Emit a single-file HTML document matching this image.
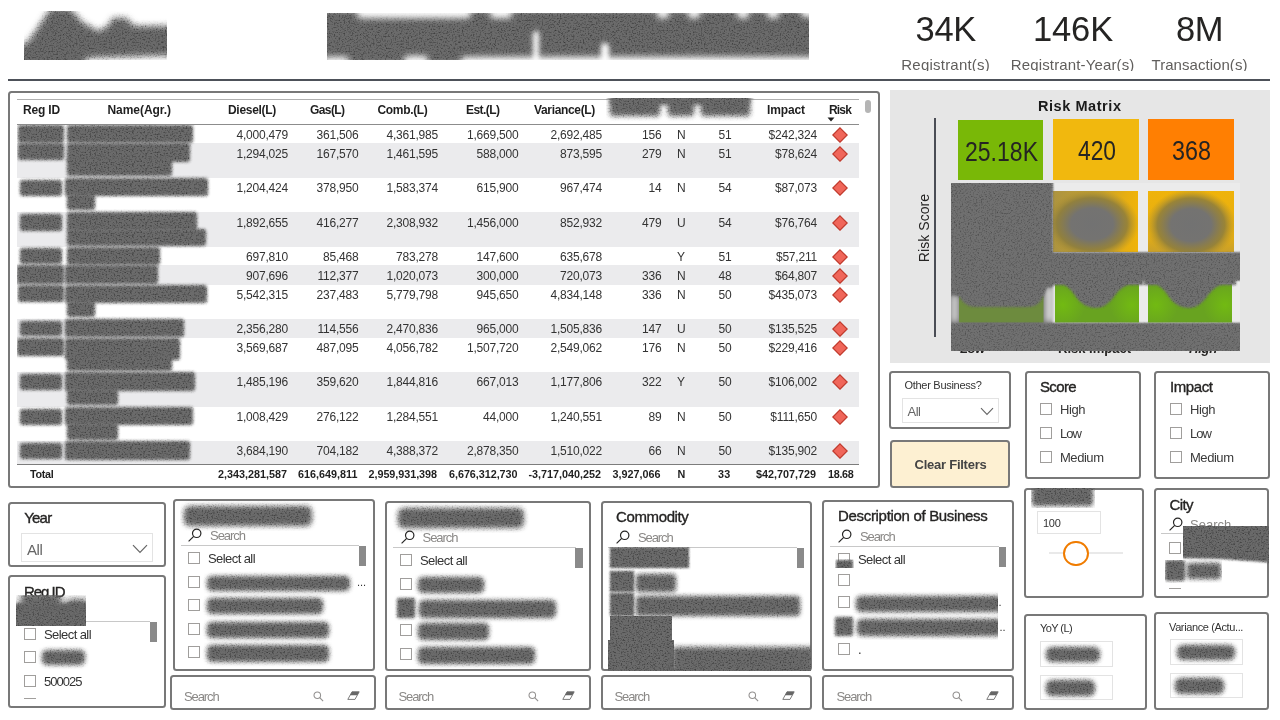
<!DOCTYPE html>
<html lang="en"><head><meta charset="utf-8"><title>Risk Dashboard</title>
<style>
html,body{margin:0;padding:0;}
body{width:1280px;height:720px;overflow:hidden;background:#fff;font-family:"Liberation Sans",sans-serif;position:relative;}
#pg{position:absolute;left:0;top:0;width:1280px;height:720px;overflow:hidden;}
#pg div,#pg span,#pg svg{position:absolute;box-sizing:border-box;}
.t{white-space:nowrap;display:block;}
.card{border:2px solid #787878;border-radius:3.5px;background:#fff;}
.cb{border:1px solid #a09e9c;background:#fff;}
.thumb{background:#8a8a8a;}
.in{border:1px solid #e3e3e3;background:#fff;}
</style></head><body><div id="pg">
<svg width="0" height="0" style="left:0;top:0"><defs>
<filter id="n" x="-50%" y="-50%" width="200%" height="200%" color-interpolation-filters="sRGB">
<feTurbulence type="fractalNoise" baseFrequency="0.61 0.67" numOctaves="3" seed="5" result="t"/>
<feColorMatrix in="t" type="matrix" values="0 0 0 0 0.22  0 0 0 0 0.22  0 0 0 0 0.22  2.4 0 0 0 -1.15" result="a"/>
<feComposite in="a" in2="SourceAlpha" operator="in" result="m"/>
<feMerge><feMergeNode in="SourceGraphic"/><feMergeNode in="m"/></feMerge>
</filter>
<filter id="n2" x="-10%" y="-10%" width="120%" height="120%" color-interpolation-filters="sRGB">
<feTurbulence type="fractalNoise" baseFrequency="0.63 0.69" numOctaves="3" seed="9" result="t"/>
<feColorMatrix in="t" type="matrix" values="0 0 0 0 0.25  0 0 0 0 0.25  0 0 0 0 0.25  1.9 0 0 0 -0.93" result="a"/>
<feComposite in="a" in2="SourceAlpha" operator="in" result="m"/>
<feMerge><feMergeNode in="SourceGraphic"/><feMergeNode in="m"/></feMerge>
</filter>
<filter id="lb" x="-20%" y="-20%" width="140%" height="140%"><feGaussianBlur stdDeviation="3"/></filter>
</defs></svg>

<svg style="left:24px;top:11px;filter:url(#n)" width="143" height="49" viewBox="0 0 143 49"><g filter="url(#lb)" fill="#6b6b6b"><polygon points="-10,67 -10,37 4,31 27,-3 46,-3 58,11 74,20 83,16 89,7 102,7 110,15 160,15 160,44 62,47 62,67"/></g></svg>
<div style="left:327px;top:13px;width:482px;height:47px;overflow:hidden;">
<div class="b" style="left:-6px;top:-2px;width:496px;height:52px;background:#6b6b6b;border-radius:3px;filter:blur(2px) url(#n);"></div>
<div class="b" style="left:30px;top:-5px;width:114px;height:10px;background:#fff;filter:blur(3px);border-radius:4px"></div>
<div class="b" style="left:163px;top:-5px;width:22px;height:10px;background:#fff;filter:blur(3px);border-radius:4px"></div>
<div class="b" style="left:330px;top:-5px;width:12px;height:10px;background:#fff;filter:blur(3px);border-radius:4px"></div>
<div class="b" style="left:361px;top:-5px;width:12px;height:10px;background:#fff;filter:blur(3px);border-radius:4px"></div>
<div class="b" style="left:410px;top:-5px;width:12px;height:10px;background:#fff;filter:blur(3px);border-radius:4px"></div>
<div class="b" style="left:440px;top:-5px;width:12px;height:10px;background:#fff;filter:blur(3px);border-radius:4px"></div>
<div class="b" style="left:474px;top:-5px;width:16px;height:9px;background:#fff;filter:blur(3px);border-radius:4px"></div>
<div class="b" style="left:-4px;top:44px;width:26px;height:8px;background:#fff;filter:blur(3px);border-radius:4px"></div>
<div class="b" style="left:77px;top:43px;width:24px;height:9px;background:#fff;filter:blur(3px);border-radius:4px"></div>
<div class="b" style="left:134px;top:44px;width:360px;height:10px;background:#fff;filter:blur(3px);border-radius:4px"></div>
<div class="b" style="left:206px;top:18px;width:6px;height:34px;background:#fff;filter:blur(2.5px);border-radius:4px"></div>
<div class="b" style="left:274px;top:30px;width:8px;height:22px;background:#fff;filter:blur(2.5px);border-radius:4px"></div>
</div>
<span class="t" style="top:4.8px;height:48px;line-height:48px;font-size:34.5px;color:#252423;left:915.5px;letter-spacing:-0.296px;">34K</span>
<span class="t" style="top:4.8px;height:48px;line-height:48px;font-size:34.5px;color:#252423;left:1033px;letter-spacing:-0.144px;">146K</span>
<span class="t" style="top:4.8px;height:48px;line-height:48px;font-size:34.5px;color:#252423;left:1176px;letter-spacing:-0.464px;">8M</span>
<div style="left:890px;top:50px;width:390px;height:21px;overflow:hidden;">
<span class="t" style="top:3.5px;height:21px;line-height:21px;font-size:15px;color:#605e5c;left:11.3px;letter-spacing:0.219px;">Registrant(s)</span>
<span class="t" style="top:3.5px;height:21px;line-height:21px;font-size:15px;color:#605e5c;left:120.8px;letter-spacing:0.141px;">Registrant-Year(s)</span>
<span class="t" style="top:3.5px;height:21px;line-height:21px;font-size:15px;color:#605e5c;left:261.5px;letter-spacing:0.050px;">Transaction(s)</span>
</div>
<div style="left:8px;top:79px;width:1262px;height:2px;background:#4d5159;"></div>
<div class="card" style="left:8px;top:91px;width:872px;height:397px;"></div>
<div style="left:17px;top:99px;width:842px;height:1px;background:#b0b0b0;"></div>
<div style="left:17px;top:124px;width:842px;height:1px;background:#8c8c8c;"></div>
<span class="t" style="top:126.5px;height:17px;line-height:17px;font-size:12px;color:#333;right:992px;text-align:right;letter-spacing:-0.2px;">4,000,479</span>
<span class="t" style="top:126.5px;height:17px;line-height:17px;font-size:12px;color:#333;right:921.5px;text-align:right;letter-spacing:-0.2px;">361,506</span>
<span class="t" style="top:126.5px;height:17px;line-height:17px;font-size:12px;color:#333;right:842px;text-align:right;letter-spacing:-0.2px;">4,361,985</span>
<span class="t" style="top:126.5px;height:17px;line-height:17px;font-size:12px;color:#333;right:761.5px;text-align:right;letter-spacing:-0.2px;">1,669,500</span>
<span class="t" style="top:126.5px;height:17px;line-height:17px;font-size:12px;color:#333;right:678px;text-align:right;letter-spacing:-0.2px;">2,692,485</span>
<span class="t" style="top:126.5px;height:17px;line-height:17px;font-size:12px;color:#333;right:618.5px;text-align:right;letter-spacing:-0.2px;">156</span>
<span class="t" style="top:126.5px;height:17px;line-height:17px;font-size:12px;color:#333;left:677px;">N</span>
<span class="t" style="top:126.5px;height:17px;line-height:17px;font-size:12px;color:#333;right:548.5px;text-align:right;letter-spacing:-0.2px;">51</span>
<span class="t" style="top:126.5px;height:17px;line-height:17px;font-size:12px;color:#333;right:463px;text-align:right;letter-spacing:-0.2px;">$242,324</span>
<svg style="left:832px;top:126.5px" width="16" height="16" viewBox="0 0 16 16"><path d="M8 0.8 L15.2 8 L8 15.2 L0.8 8 Z" fill="#f0665a" stroke="#c0392c" stroke-width="1.2"/></svg>
<div style="left:17px;top:143px;width:842px;height:35px;background:#ebebed;"></div>
<span class="t" style="top:145.5px;height:17px;line-height:17px;font-size:12px;color:#333;right:992px;text-align:right;letter-spacing:-0.2px;">1,294,025</span>
<span class="t" style="top:145.5px;height:17px;line-height:17px;font-size:12px;color:#333;right:921.5px;text-align:right;letter-spacing:-0.2px;">167,570</span>
<span class="t" style="top:145.5px;height:17px;line-height:17px;font-size:12px;color:#333;right:842px;text-align:right;letter-spacing:-0.2px;">1,461,595</span>
<span class="t" style="top:145.5px;height:17px;line-height:17px;font-size:12px;color:#333;right:761.5px;text-align:right;letter-spacing:-0.2px;">588,000</span>
<span class="t" style="top:145.5px;height:17px;line-height:17px;font-size:12px;color:#333;right:678px;text-align:right;letter-spacing:-0.2px;">873,595</span>
<span class="t" style="top:145.5px;height:17px;line-height:17px;font-size:12px;color:#333;right:618.5px;text-align:right;letter-spacing:-0.2px;">279</span>
<span class="t" style="top:145.5px;height:17px;line-height:17px;font-size:12px;color:#333;left:677px;">N</span>
<span class="t" style="top:145.5px;height:17px;line-height:17px;font-size:12px;color:#333;right:548.5px;text-align:right;letter-spacing:-0.2px;">51</span>
<span class="t" style="top:145.5px;height:17px;line-height:17px;font-size:12px;color:#333;right:463px;text-align:right;letter-spacing:-0.2px;">$78,624</span>
<svg style="left:832px;top:145.5px" width="16" height="16" viewBox="0 0 16 16"><path d="M8 0.8 L15.2 8 L8 15.2 L0.8 8 Z" fill="#f0665a" stroke="#c0392c" stroke-width="1.2"/></svg>
<span class="t" style="top:179.5px;height:17px;line-height:17px;font-size:12px;color:#333;right:992px;text-align:right;letter-spacing:-0.2px;">1,204,424</span>
<span class="t" style="top:179.5px;height:17px;line-height:17px;font-size:12px;color:#333;right:921.5px;text-align:right;letter-spacing:-0.2px;">378,950</span>
<span class="t" style="top:179.5px;height:17px;line-height:17px;font-size:12px;color:#333;right:842px;text-align:right;letter-spacing:-0.2px;">1,583,374</span>
<span class="t" style="top:179.5px;height:17px;line-height:17px;font-size:12px;color:#333;right:761.5px;text-align:right;letter-spacing:-0.2px;">615,900</span>
<span class="t" style="top:179.5px;height:17px;line-height:17px;font-size:12px;color:#333;right:678px;text-align:right;letter-spacing:-0.2px;">967,474</span>
<span class="t" style="top:179.5px;height:17px;line-height:17px;font-size:12px;color:#333;right:618.5px;text-align:right;letter-spacing:-0.2px;">14</span>
<span class="t" style="top:179.5px;height:17px;line-height:17px;font-size:12px;color:#333;left:677px;">N</span>
<span class="t" style="top:179.5px;height:17px;line-height:17px;font-size:12px;color:#333;right:548.5px;text-align:right;letter-spacing:-0.2px;">54</span>
<span class="t" style="top:179.5px;height:17px;line-height:17px;font-size:12px;color:#333;right:463px;text-align:right;letter-spacing:-0.2px;">$87,073</span>
<svg style="left:832px;top:179.5px" width="16" height="16" viewBox="0 0 16 16"><path d="M8 0.8 L15.2 8 L8 15.2 L0.8 8 Z" fill="#f0665a" stroke="#c0392c" stroke-width="1.2"/></svg>
<div style="left:17px;top:212px;width:842px;height:35px;background:#ebebed;"></div>
<span class="t" style="top:214.5px;height:17px;line-height:17px;font-size:12px;color:#333;right:992px;text-align:right;letter-spacing:-0.2px;">1,892,655</span>
<span class="t" style="top:214.5px;height:17px;line-height:17px;font-size:12px;color:#333;right:921.5px;text-align:right;letter-spacing:-0.2px;">416,277</span>
<span class="t" style="top:214.5px;height:17px;line-height:17px;font-size:12px;color:#333;right:842px;text-align:right;letter-spacing:-0.2px;">2,308,932</span>
<span class="t" style="top:214.5px;height:17px;line-height:17px;font-size:12px;color:#333;right:761.5px;text-align:right;letter-spacing:-0.2px;">1,456,000</span>
<span class="t" style="top:214.5px;height:17px;line-height:17px;font-size:12px;color:#333;right:678px;text-align:right;letter-spacing:-0.2px;">852,932</span>
<span class="t" style="top:214.5px;height:17px;line-height:17px;font-size:12px;color:#333;right:618.5px;text-align:right;letter-spacing:-0.2px;">479</span>
<span class="t" style="top:214.5px;height:17px;line-height:17px;font-size:12px;color:#333;left:677px;">U</span>
<span class="t" style="top:214.5px;height:17px;line-height:17px;font-size:12px;color:#333;right:548.5px;text-align:right;letter-spacing:-0.2px;">54</span>
<span class="t" style="top:214.5px;height:17px;line-height:17px;font-size:12px;color:#333;right:463px;text-align:right;letter-spacing:-0.2px;">$76,764</span>
<svg style="left:832px;top:214.5px" width="16" height="16" viewBox="0 0 16 16"><path d="M8 0.8 L15.2 8 L8 15.2 L0.8 8 Z" fill="#f0665a" stroke="#c0392c" stroke-width="1.2"/></svg>
<span class="t" style="top:248.5px;height:17px;line-height:17px;font-size:12px;color:#333;right:992px;text-align:right;letter-spacing:-0.2px;">697,810</span>
<span class="t" style="top:248.5px;height:17px;line-height:17px;font-size:12px;color:#333;right:921.5px;text-align:right;letter-spacing:-0.2px;">85,468</span>
<span class="t" style="top:248.5px;height:17px;line-height:17px;font-size:12px;color:#333;right:842px;text-align:right;letter-spacing:-0.2px;">783,278</span>
<span class="t" style="top:248.5px;height:17px;line-height:17px;font-size:12px;color:#333;right:761.5px;text-align:right;letter-spacing:-0.2px;">147,600</span>
<span class="t" style="top:248.5px;height:17px;line-height:17px;font-size:12px;color:#333;right:678px;text-align:right;letter-spacing:-0.2px;">635,678</span>
<span class="t" style="top:248.5px;height:17px;line-height:17px;font-size:12px;color:#333;left:677px;">Y</span>
<span class="t" style="top:248.5px;height:17px;line-height:17px;font-size:12px;color:#333;right:548.5px;text-align:right;letter-spacing:-0.2px;">51</span>
<span class="t" style="top:248.5px;height:17px;line-height:17px;font-size:12px;color:#333;right:463px;text-align:right;letter-spacing:-0.2px;">$57,211</span>
<svg style="left:832px;top:248.5px" width="16" height="16" viewBox="0 0 16 16"><path d="M8 0.8 L15.2 8 L8 15.2 L0.8 8 Z" fill="#f0665a" stroke="#c0392c" stroke-width="1.2"/></svg>
<div style="left:17px;top:265px;width:842px;height:19.5px;background:#ebebed;"></div>
<span class="t" style="top:267.5px;height:17px;line-height:17px;font-size:12px;color:#333;right:992px;text-align:right;letter-spacing:-0.2px;">907,696</span>
<span class="t" style="top:267.5px;height:17px;line-height:17px;font-size:12px;color:#333;right:921.5px;text-align:right;letter-spacing:-0.2px;">112,377</span>
<span class="t" style="top:267.5px;height:17px;line-height:17px;font-size:12px;color:#333;right:842px;text-align:right;letter-spacing:-0.2px;">1,020,073</span>
<span class="t" style="top:267.5px;height:17px;line-height:17px;font-size:12px;color:#333;right:761.5px;text-align:right;letter-spacing:-0.2px;">300,000</span>
<span class="t" style="top:267.5px;height:17px;line-height:17px;font-size:12px;color:#333;right:678px;text-align:right;letter-spacing:-0.2px;">720,073</span>
<span class="t" style="top:267.5px;height:17px;line-height:17px;font-size:12px;color:#333;right:618.5px;text-align:right;letter-spacing:-0.2px;">336</span>
<span class="t" style="top:267.5px;height:17px;line-height:17px;font-size:12px;color:#333;left:677px;">N</span>
<span class="t" style="top:267.5px;height:17px;line-height:17px;font-size:12px;color:#333;right:548.5px;text-align:right;letter-spacing:-0.2px;">48</span>
<span class="t" style="top:267.5px;height:17px;line-height:17px;font-size:12px;color:#333;right:463px;text-align:right;letter-spacing:-0.2px;">$64,807</span>
<svg style="left:832px;top:267.5px" width="16" height="16" viewBox="0 0 16 16"><path d="M8 0.8 L15.2 8 L8 15.2 L0.8 8 Z" fill="#f0665a" stroke="#c0392c" stroke-width="1.2"/></svg>
<span class="t" style="top:286.5px;height:17px;line-height:17px;font-size:12px;color:#333;right:992px;text-align:right;letter-spacing:-0.2px;">5,542,315</span>
<span class="t" style="top:286.5px;height:17px;line-height:17px;font-size:12px;color:#333;right:921.5px;text-align:right;letter-spacing:-0.2px;">237,483</span>
<span class="t" style="top:286.5px;height:17px;line-height:17px;font-size:12px;color:#333;right:842px;text-align:right;letter-spacing:-0.2px;">5,779,798</span>
<span class="t" style="top:286.5px;height:17px;line-height:17px;font-size:12px;color:#333;right:761.5px;text-align:right;letter-spacing:-0.2px;">945,650</span>
<span class="t" style="top:286.5px;height:17px;line-height:17px;font-size:12px;color:#333;right:678px;text-align:right;letter-spacing:-0.2px;">4,834,148</span>
<span class="t" style="top:286.5px;height:17px;line-height:17px;font-size:12px;color:#333;right:618.5px;text-align:right;letter-spacing:-0.2px;">336</span>
<span class="t" style="top:286.5px;height:17px;line-height:17px;font-size:12px;color:#333;left:677px;">N</span>
<span class="t" style="top:286.5px;height:17px;line-height:17px;font-size:12px;color:#333;right:548.5px;text-align:right;letter-spacing:-0.2px;">50</span>
<span class="t" style="top:286.5px;height:17px;line-height:17px;font-size:12px;color:#333;right:463px;text-align:right;letter-spacing:-0.2px;">$435,073</span>
<svg style="left:832px;top:286.5px" width="16" height="16" viewBox="0 0 16 16"><path d="M8 0.8 L15.2 8 L8 15.2 L0.8 8 Z" fill="#f0665a" stroke="#c0392c" stroke-width="1.2"/></svg>
<div style="left:17px;top:319px;width:842px;height:18.5px;background:#ebebed;"></div>
<span class="t" style="top:320.5px;height:17px;line-height:17px;font-size:12px;color:#333;right:992px;text-align:right;letter-spacing:-0.2px;">2,356,280</span>
<span class="t" style="top:320.5px;height:17px;line-height:17px;font-size:12px;color:#333;right:921.5px;text-align:right;letter-spacing:-0.2px;">114,556</span>
<span class="t" style="top:320.5px;height:17px;line-height:17px;font-size:12px;color:#333;right:842px;text-align:right;letter-spacing:-0.2px;">2,470,836</span>
<span class="t" style="top:320.5px;height:17px;line-height:17px;font-size:12px;color:#333;right:761.5px;text-align:right;letter-spacing:-0.2px;">965,000</span>
<span class="t" style="top:320.5px;height:17px;line-height:17px;font-size:12px;color:#333;right:678px;text-align:right;letter-spacing:-0.2px;">1,505,836</span>
<span class="t" style="top:320.5px;height:17px;line-height:17px;font-size:12px;color:#333;right:618.5px;text-align:right;letter-spacing:-0.2px;">147</span>
<span class="t" style="top:320.5px;height:17px;line-height:17px;font-size:12px;color:#333;left:677px;">U</span>
<span class="t" style="top:320.5px;height:17px;line-height:17px;font-size:12px;color:#333;right:548.5px;text-align:right;letter-spacing:-0.2px;">50</span>
<span class="t" style="top:320.5px;height:17px;line-height:17px;font-size:12px;color:#333;right:463px;text-align:right;letter-spacing:-0.2px;">$135,525</span>
<svg style="left:832px;top:320.5px" width="16" height="16" viewBox="0 0 16 16"><path d="M8 0.8 L15.2 8 L8 15.2 L0.8 8 Z" fill="#f0665a" stroke="#c0392c" stroke-width="1.2"/></svg>
<span class="t" style="top:339.5px;height:17px;line-height:17px;font-size:12px;color:#333;right:992px;text-align:right;letter-spacing:-0.2px;">3,569,687</span>
<span class="t" style="top:339.5px;height:17px;line-height:17px;font-size:12px;color:#333;right:921.5px;text-align:right;letter-spacing:-0.2px;">487,095</span>
<span class="t" style="top:339.5px;height:17px;line-height:17px;font-size:12px;color:#333;right:842px;text-align:right;letter-spacing:-0.2px;">4,056,782</span>
<span class="t" style="top:339.5px;height:17px;line-height:17px;font-size:12px;color:#333;right:761.5px;text-align:right;letter-spacing:-0.2px;">1,507,720</span>
<span class="t" style="top:339.5px;height:17px;line-height:17px;font-size:12px;color:#333;right:678px;text-align:right;letter-spacing:-0.2px;">2,549,062</span>
<span class="t" style="top:339.5px;height:17px;line-height:17px;font-size:12px;color:#333;right:618.5px;text-align:right;letter-spacing:-0.2px;">176</span>
<span class="t" style="top:339.5px;height:17px;line-height:17px;font-size:12px;color:#333;left:677px;">N</span>
<span class="t" style="top:339.5px;height:17px;line-height:17px;font-size:12px;color:#333;right:548.5px;text-align:right;letter-spacing:-0.2px;">50</span>
<span class="t" style="top:339.5px;height:17px;line-height:17px;font-size:12px;color:#333;right:463px;text-align:right;letter-spacing:-0.2px;">$229,416</span>
<svg style="left:832px;top:339.5px" width="16" height="16" viewBox="0 0 16 16"><path d="M8 0.8 L15.2 8 L8 15.2 L0.8 8 Z" fill="#f0665a" stroke="#c0392c" stroke-width="1.2"/></svg>
<div style="left:17px;top:371.5px;width:842px;height:35px;background:#ebebed;"></div>
<span class="t" style="top:373.5px;height:17px;line-height:17px;font-size:12px;color:#333;right:992px;text-align:right;letter-spacing:-0.2px;">1,485,196</span>
<span class="t" style="top:373.5px;height:17px;line-height:17px;font-size:12px;color:#333;right:921.5px;text-align:right;letter-spacing:-0.2px;">359,620</span>
<span class="t" style="top:373.5px;height:17px;line-height:17px;font-size:12px;color:#333;right:842px;text-align:right;letter-spacing:-0.2px;">1,844,816</span>
<span class="t" style="top:373.5px;height:17px;line-height:17px;font-size:12px;color:#333;right:761.5px;text-align:right;letter-spacing:-0.2px;">667,013</span>
<span class="t" style="top:373.5px;height:17px;line-height:17px;font-size:12px;color:#333;right:678px;text-align:right;letter-spacing:-0.2px;">1,177,806</span>
<span class="t" style="top:373.5px;height:17px;line-height:17px;font-size:12px;color:#333;right:618.5px;text-align:right;letter-spacing:-0.2px;">322</span>
<span class="t" style="top:373.5px;height:17px;line-height:17px;font-size:12px;color:#333;left:677px;">Y</span>
<span class="t" style="top:373.5px;height:17px;line-height:17px;font-size:12px;color:#333;right:548.5px;text-align:right;letter-spacing:-0.2px;">50</span>
<span class="t" style="top:373.5px;height:17px;line-height:17px;font-size:12px;color:#333;right:463px;text-align:right;letter-spacing:-0.2px;">$106,002</span>
<svg style="left:832px;top:373.5px" width="16" height="16" viewBox="0 0 16 16"><path d="M8 0.8 L15.2 8 L8 15.2 L0.8 8 Z" fill="#f0665a" stroke="#c0392c" stroke-width="1.2"/></svg>
<span class="t" style="top:408.5px;height:17px;line-height:17px;font-size:12px;color:#333;right:992px;text-align:right;letter-spacing:-0.2px;">1,008,429</span>
<span class="t" style="top:408.5px;height:17px;line-height:17px;font-size:12px;color:#333;right:921.5px;text-align:right;letter-spacing:-0.2px;">276,122</span>
<span class="t" style="top:408.5px;height:17px;line-height:17px;font-size:12px;color:#333;right:842px;text-align:right;letter-spacing:-0.2px;">1,284,551</span>
<span class="t" style="top:408.5px;height:17px;line-height:17px;font-size:12px;color:#333;right:761.5px;text-align:right;letter-spacing:-0.2px;">44,000</span>
<span class="t" style="top:408.5px;height:17px;line-height:17px;font-size:12px;color:#333;right:678px;text-align:right;letter-spacing:-0.2px;">1,240,551</span>
<span class="t" style="top:408.5px;height:17px;line-height:17px;font-size:12px;color:#333;right:618.5px;text-align:right;letter-spacing:-0.2px;">89</span>
<span class="t" style="top:408.5px;height:17px;line-height:17px;font-size:12px;color:#333;left:677px;">N</span>
<span class="t" style="top:408.5px;height:17px;line-height:17px;font-size:12px;color:#333;right:548.5px;text-align:right;letter-spacing:-0.2px;">50</span>
<span class="t" style="top:408.5px;height:17px;line-height:17px;font-size:12px;color:#333;right:463px;text-align:right;letter-spacing:-0.2px;">$111,650</span>
<svg style="left:832px;top:408.5px" width="16" height="16" viewBox="0 0 16 16"><path d="M8 0.8 L15.2 8 L8 15.2 L0.8 8 Z" fill="#f0665a" stroke="#c0392c" stroke-width="1.2"/></svg>
<div style="left:17px;top:441px;width:842px;height:23.5px;background:#ebebed;"></div>
<span class="t" style="top:442.5px;height:17px;line-height:17px;font-size:12px;color:#333;right:992px;text-align:right;letter-spacing:-0.2px;">3,684,190</span>
<span class="t" style="top:442.5px;height:17px;line-height:17px;font-size:12px;color:#333;right:921.5px;text-align:right;letter-spacing:-0.2px;">704,182</span>
<span class="t" style="top:442.5px;height:17px;line-height:17px;font-size:12px;color:#333;right:842px;text-align:right;letter-spacing:-0.2px;">4,388,372</span>
<span class="t" style="top:442.5px;height:17px;line-height:17px;font-size:12px;color:#333;right:761.5px;text-align:right;letter-spacing:-0.2px;">2,878,350</span>
<span class="t" style="top:442.5px;height:17px;line-height:17px;font-size:12px;color:#333;right:678px;text-align:right;letter-spacing:-0.2px;">1,510,022</span>
<span class="t" style="top:442.5px;height:17px;line-height:17px;font-size:12px;color:#333;right:618.5px;text-align:right;letter-spacing:-0.2px;">66</span>
<span class="t" style="top:442.5px;height:17px;line-height:17px;font-size:12px;color:#333;left:677px;">N</span>
<span class="t" style="top:442.5px;height:17px;line-height:17px;font-size:12px;color:#333;right:548.5px;text-align:right;letter-spacing:-0.2px;">50</span>
<span class="t" style="top:442.5px;height:17px;line-height:17px;font-size:12px;color:#333;right:463px;text-align:right;letter-spacing:-0.2px;">$135,902</span>
<svg style="left:832px;top:442.5px" width="16" height="16" viewBox="0 0 16 16"><path d="M8 0.8 L15.2 8 L8 15.2 L0.8 8 Z" fill="#f0665a" stroke="#c0392c" stroke-width="1.2"/></svg>
<span class="t" style="top:101.5px;height:17px;line-height:17px;font-size:12px;color:#1f1f1f;font-weight:700;left:23px;letter-spacing:-0.167px;">Reg ID</span>
<span class="t" style="top:101.5px;height:17px;line-height:17px;font-size:12px;color:#1f1f1f;font-weight:700;left:107.5px;letter-spacing:-0.052px;">Name(Agr.)</span>
<span class="t" style="top:101.5px;height:17px;line-height:17px;font-size:12px;color:#1f1f1f;font-weight:700;left:228px;letter-spacing:-0.298px;">Diesel(L)</span>
<span class="t" style="top:101.5px;height:17px;line-height:17px;font-size:12px;color:#1f1f1f;font-weight:700;left:310px;letter-spacing:-0.584px;">Gas(L)</span>
<span class="t" style="top:101.5px;height:17px;line-height:17px;font-size:12px;color:#1f1f1f;font-weight:700;left:377.5px;letter-spacing:-0.332px;">Comb.(L)</span>
<span class="t" style="top:101.5px;height:17px;line-height:17px;font-size:12px;color:#1f1f1f;font-weight:700;left:466px;letter-spacing:-0.547px;">Est.(L)</span>
<span class="t" style="top:101.5px;height:17px;line-height:17px;font-size:12px;color:#1f1f1f;font-weight:700;left:534px;letter-spacing:-0.336px;">Variance(L)</span>
<span class="t" style="top:101.5px;height:17px;line-height:17px;font-size:12px;color:#1f1f1f;font-weight:700;left:767px;letter-spacing:-0.113px;">Impact</span>
<span class="t" style="top:101.5px;height:17px;line-height:17px;font-size:12px;color:#1f1f1f;font-weight:700;left:829px;letter-spacing:-0.837px;">Risk</span>
<svg style="left:827px;top:117px" width="8" height="5" viewBox="0 0 8 5"><path d="M0.5 0.5 L7.5 0.5 L4 4.5 Z" fill="#1f1f1f"/></svg>
<div style="left:606px;top:98px;width:150px;height:26px;overflow:hidden;">
<div class="b" style="left:5px;top:-6px;width:138px;height:13px;background:#6b6b6b;border-radius:3px;filter:blur(2px) url(#n);"></div>
<div class="b" style="left:4px;top:-6px;width:50px;height:24px;background:#6b6b6b;border-radius:3px;filter:blur(2.5px) url(#n);"></div>
<div class="b" style="left:62px;top:-6px;width:26px;height:24px;background:#6b6b6b;border-radius:3px;filter:blur(2.5px) url(#n);"></div>
<div class="b" style="left:95px;top:-6px;width:49px;height:24px;background:#6b6b6b;border-radius:3px;filter:blur(2.5px) url(#n);"></div>
</div>
<div style="left:17px;top:125px;width:200px;height:340px;overflow:hidden;">
<div class="b" style="left:1px;top:0px;width:46px;height:18px;background:#6b6b6b;border-radius:3px;filter:blur(1.5px) url(#n);"></div>
<div class="b" style="left:50px;top:0px;width:126px;height:18px;background:#6b6b6b;border-radius:3px;filter:blur(1.5px) url(#n);"></div>
<div class="b" style="left:1px;top:18px;width:46px;height:17px;background:#6b6b6b;border-radius:3px;filter:blur(1.5px) url(#n);"></div>
<div class="b" style="left:50px;top:18px;width:123px;height:19px;background:#6b6b6b;border-radius:3px;filter:blur(1.5px) url(#n);"></div>
<div class="b" style="left:50px;top:33px;width:105px;height:18px;background:#6b6b6b;border-radius:3px;filter:blur(1.5px) url(#n);"></div>
<div class="b" style="left:3px;top:55px;width:42px;height:16px;background:#6b6b6b;border-radius:3px;filter:blur(1.5px) url(#n);"></div>
<div class="b" style="left:48px;top:53px;width:143px;height:18px;background:#6b6b6b;border-radius:3px;filter:blur(1.5px) url(#n);"></div>
<div class="b" style="left:50px;top:69px;width:28px;height:16px;background:#6b6b6b;border-radius:3px;filter:blur(1.5px) url(#n);"></div>
<div class="b" style="left:3px;top:89px;width:42px;height:17px;background:#6b6b6b;border-radius:3px;filter:blur(1.5px) url(#n);"></div>
<div class="b" style="left:50px;top:87px;width:130px;height:19px;background:#6b6b6b;border-radius:3px;filter:blur(1.5px) url(#n);"></div>
<div class="b" style="left:50px;top:104px;width:139px;height:17px;background:#6b6b6b;border-radius:3px;filter:blur(1.5px) url(#n);"></div>
<div class="b" style="left:3px;top:123px;width:42px;height:16px;background:#6b6b6b;border-radius:3px;filter:blur(1.5px) url(#n);"></div>
<div class="b" style="left:50px;top:122px;width:93px;height:18px;background:#6b6b6b;border-radius:3px;filter:blur(1.5px) url(#n);"></div>
<div class="b" style="left:0px;top:140px;width:47px;height:19px;background:#6b6b6b;border-radius:3px;filter:blur(1.5px) url(#n);"></div>
<div class="b" style="left:48px;top:140px;width:93px;height:19px;background:#6b6b6b;border-radius:3px;filter:blur(1.5px) url(#n);"></div>
<div class="b" style="left:1px;top:160px;width:46px;height:17px;background:#6b6b6b;border-radius:3px;filter:blur(1.5px) url(#n);"></div>
<div class="b" style="left:48px;top:160px;width:142px;height:18px;background:#6b6b6b;border-radius:3px;filter:blur(1.5px) url(#n);"></div>
<div class="b" style="left:50px;top:176px;width:28px;height:16px;background:#6b6b6b;border-radius:3px;filter:blur(1.5px) url(#n);"></div>
<div class="b" style="left:3px;top:196px;width:42px;height:15px;background:#6b6b6b;border-radius:3px;filter:blur(1.5px) url(#n);"></div>
<div class="b" style="left:48px;top:194px;width:119px;height:18px;background:#6b6b6b;border-radius:3px;filter:blur(1.5px) url(#n);"></div>
<div class="b" style="left:0px;top:213px;width:47px;height:18px;background:#6b6b6b;border-radius:3px;filter:blur(1.5px) url(#n);"></div>
<div class="b" style="left:48px;top:213px;width:115px;height:22px;background:#6b6b6b;border-radius:3px;filter:blur(1.5px) url(#n);"></div>
<div class="b" style="left:50px;top:231px;width:105px;height:15px;background:#6b6b6b;border-radius:3px;filter:blur(1.5px) url(#n);"></div>
<div class="b" style="left:3px;top:249px;width:42px;height:16px;background:#6b6b6b;border-radius:3px;filter:blur(1.5px) url(#n);"></div>
<div class="b" style="left:48px;top:247px;width:130px;height:19px;background:#6b6b6b;border-radius:3px;filter:blur(1.5px) url(#n);"></div>
<div class="b" style="left:50px;top:264px;width:51px;height:16px;background:#6b6b6b;border-radius:3px;filter:blur(1.5px) url(#n);"></div>
<div class="b" style="left:3px;top:284px;width:42px;height:16px;background:#6b6b6b;border-radius:3px;filter:blur(1.5px) url(#n);"></div>
<div class="b" style="left:48px;top:282px;width:128px;height:18px;background:#6b6b6b;border-radius:3px;filter:blur(1.5px) url(#n);"></div>
<div class="b" style="left:50px;top:298px;width:51px;height:17px;background:#6b6b6b;border-radius:3px;filter:blur(1.5px) url(#n);"></div>
<div class="b" style="left:3px;top:318px;width:42px;height:16px;background:#6b6b6b;border-radius:3px;filter:blur(1.5px) url(#n);"></div>
<div class="b" style="left:48px;top:316px;width:125px;height:19px;background:#6b6b6b;border-radius:3px;filter:blur(1.5px) url(#n);"></div>
</div>
<div style="left:17px;top:464px;width:842px;height:1px;background:#7c7c7c;"></div>
<span class="t" style="top:466.5px;height:15px;line-height:15px;font-size:10.8px;color:#1f1f1f;font-weight:700;left:30px;letter-spacing:-0.299px;">Total</span>
<span class="t" style="top:466.5px;height:15px;line-height:15px;font-size:10.8px;color:#1f1f1f;font-weight:700;left:218px;letter-spacing:-0.005px;">2,343,281,587</span>
<span class="t" style="top:466.5px;height:15px;line-height:15px;font-size:10.8px;color:#1f1f1f;font-weight:700;left:298px;letter-spacing:0.003px;">616,649,811</span>
<span class="t" style="top:466.5px;height:15px;line-height:15px;font-size:10.8px;color:#1f1f1f;font-weight:700;left:368.5px;letter-spacing:-0.044px;">2,959,931,398</span>
<span class="t" style="top:466.5px;height:15px;line-height:15px;font-size:10.8px;color:#1f1f1f;font-weight:700;left:449px;letter-spacing:-0.044px;">6,676,312,730</span>
<span class="t" style="top:466.5px;height:15px;line-height:15px;font-size:10.8px;color:#1f1f1f;font-weight:700;left:528.5px;letter-spacing:-0.012px;">-3,717,040,252</span>
<span class="t" style="top:466.5px;height:15px;line-height:15px;font-size:10.8px;color:#1f1f1f;font-weight:700;left:612.5px;letter-spacing:-0.005px;">3,927,066</span>
<span class="t" style="top:466.5px;height:15px;line-height:15px;font-size:10.8px;color:#1f1f1f;font-weight:700;left:677.5px;">N</span>
<span class="t" style="top:466.5px;height:15px;line-height:15px;font-size:10.8px;color:#1f1f1f;font-weight:700;left:718px;letter-spacing:0.243px;">33</span>
<span class="t" style="top:466.5px;height:15px;line-height:15px;font-size:10.8px;color:#1f1f1f;font-weight:700;left:756px;letter-spacing:-0.006px;">$42,707,729</span>
<span class="t" style="top:466.5px;height:15px;line-height:15px;font-size:10.8px;color:#1f1f1f;font-weight:700;left:828px;letter-spacing:-0.305px;">18.68</span>
<div style="left:865px;top:99.5px;width:6px;height:13px;background:#b5b5b5;border-radius:3px;"></div>
<div style="left:889.5px;top:90px;width:380.5px;height:273px;background:#e6e6e6;"></div>
<span class="t" style="top:96px;height:20px;line-height:20px;font-size:14.5px;color:#1b1b1b;font-weight:700;left:1038px;letter-spacing:0.558px;">Risk Matrix</span>
<div style="left:933.5px;top:118px;width:2px;height:219px;background:#4a4d55;"></div>
<span class="t" style="left:883.5px;top:217.5px;width:80px;height:20px;line-height:20px;font-size:14px;color:#252423;text-align:center;transform:rotate(-90deg);letter-spacing:0.06px">Risk Score</span>
<div style="left:958px;top:120px;width:85px;height:60px;background:#79b807;"></div>
<div style="left:1053px;top:119px;width:86px;height:60.5px;background:#f1b80e;"></div>
<div style="left:1148px;top:119px;width:86px;height:61px;background:#ff7f02;"></div>
<span class="t" style="top:132.6px;height:38px;line-height:38px;font-size:27px;color:#252423;left:964.5px;transform:scaleX(0.8530);transform-origin:0 50%;">25.18K</span>
<span class="t" style="top:132.2px;height:38px;line-height:38px;font-size:27px;color:#252423;left:1077.5px;transform:scaleX(0.8435);transform-origin:0 50%;">420</span>
<span class="t" style="top:132.2px;height:38px;line-height:38px;font-size:27px;color:#252423;left:1171.5px;transform:scaleX(0.8657);transform-origin:0 50%;">368</span>
<span class="t" style="top:339.6px;height:18px;line-height:18px;font-size:13px;color:#252423;font-weight:700;font-style:italic;left:960px;letter-spacing:-0.331px;">Low</span>
<span class="t" style="top:339.6px;height:18px;line-height:18px;font-size:13px;color:#252423;font-weight:700;left:1058px;letter-spacing:0.002px;">Risk Impact</span>
<span class="t" style="top:339.6px;height:18px;line-height:18px;font-size:13px;color:#252423;font-weight:700;font-style:italic;left:1189px;letter-spacing:-0.221px;">High</span>
<svg style="left:951px;top:183px" width="289" height="168" viewBox="0 0 289 168"><defs><radialGradient id="yg" cx="0.5" cy="0.5" r="0.5"><stop offset="0" stop-color="#727272"/><stop offset="0.45" stop-color="#747371"/><stop offset="0.75" stop-color="#8b7c3e" stop-opacity="0.85"/><stop offset="1" stop-color="#b0922e" stop-opacity="0"/></radialGradient><linearGradient id="yl" x1="0" x2="1" y1="0" y2="0"><stop offset="0" stop-color="#ad9440"/><stop offset="0.55" stop-color="#c4a02e"/><stop offset="0.85" stop-color="#e6ae12"/><stop offset="1" stop-color="#f0b40a"/></linearGradient><linearGradient id="yr" x1="0" x2="0" y1="0" y2="1"><stop offset="0" stop-color="#efb30b"/><stop offset="0.7" stop-color="#e6ae12"/><stop offset="1" stop-color="#c9a02a"/></linearGradient><radialGradient id="gs" cx="0.5" cy="0.5" r="0.5"><stop offset="0" stop-color="#72ba12"/><stop offset="1" stop-color="#72ba12" stop-opacity="0"/></radialGradient><clipPath id="c1"><rect x="102" y="8" width="85" height="61"/></clipPath><clipPath id="c2"><rect x="197" y="8" width="86" height="61"/></clipPath><clipPath id="c3"><rect x="104" y="101" width="84" height="38.5"/></clipPath><clipPath id="c4"><rect x="197" y="101" width="84" height="38.5"/></clipPath><filter id="g1" x="-10%" y="-10%" width="120%" height="120%"><feGaussianBlur stdDeviation="1.3"/></filter><filter id="g3" x="-30%" y="-30%" width="160%" height="160%"><feGaussianBlur stdDeviation="3"/></filter></defs><rect width="289" height="168" fill="#ebebeb"/><g filter="url(#g1)" fill="#707070"><rect x="-8" y="-8" width="109.5" height="190"/><rect x="-8" y="69.5" width="305" height="28"/><rect x="-8" y="140" width="305" height="40"/></g><g filter="url(#g3)" fill="#dcdcdc"><rect x="0" y="112" width="7" height="27"/><rect x="94" y="104" width="9" height="35"/></g><g filter="url(#g1)" fill="#ebebeb"><rect x="188.5" y="99" width="8" height="40"/><rect x="282" y="99" width="8" height="40"/></g><rect x="102" y="8" width="85" height="61" fill="url(#yl)"/><rect x="197" y="8" width="86" height="61" fill="url(#yr)"/><g clip-path="url(#c1)"><ellipse cx="141" cy="41" rx="47" ry="35" fill="url(#yg)"/></g><g clip-path="url(#c2)"><ellipse cx="240" cy="42" rx="45" ry="36" fill="url(#yg)"/></g><rect x="104" y="101" width="84" height="38.5" fill="#68a320"/><rect x="197" y="101" width="84" height="38.5" fill="#68a320"/><g clip-path="url(#c3)"><circle cx="112" cy="122" r="22" fill="url(#gs)"/><circle cx="181" cy="122" r="22" fill="url(#gs)"/></g><g clip-path="url(#c4)"><circle cx="205" cy="122" r="22" fill="url(#gs)"/><circle cx="274" cy="122" r="22" fill="url(#gs)"/></g><rect x="8" y="113" width="84.5" height="26.5" fill="#6d8b3e"/><g filter="url(#n2)"><g filter="url(#g1)" fill="#707070"><rect x="-8" y="-8" width="109.5" height="112"/><path d="M-8,100 L-8,112 L2,112 L8,113 C12,121 18,124 26,124 L76,124 C84,124 89,121 92.5,113 L96,104 L101.5,104 L101.5,100 Z"/><rect x="-8" y="70" width="305" height="27"/><path d="M100,88 L100,102 L112,102 C117,103 121,108 125,114 C130,121 137,125 145,125 C152,125 157,121 162,115 C167,108 172,103 178,102 L192,102 L192,88 Z"/><path d="M193,88 L193,102 L205,102 C210,103 214,108 218,114 C223,121 230,125 238,125 C245,125 250,121 255,115 C260,108 265,103 271,102 L285,102 L285,88 Z"/><rect x="-8" y="140.5" width="305" height="40"/></g></g></svg>
<div class="card" style="left:889px;top:371px;width:122px;height:58px;"></div>
<span class="t" style="top:378px;height:15px;line-height:15px;font-size:11px;color:#333;left:904.5px;letter-spacing:-0.288px;">Other Business?</span>
<div class="in" style="left:901.5px;top:398px;width:97px;height:25px;"></div>
<span class="t" style="top:403px;height:18px;line-height:18px;font-size:13px;color:#666;left:907.5px;letter-spacing:-0.483px;">All</span>
<svg style="left:980px;top:407px" width="14" height="9" viewBox="0 0 14 9"><path d="M1 1.2 L7 7.4 L13 1.2" fill="none" stroke="#666" stroke-width="1.1"/></svg>
<div class="card" style="left:890px;top:440px;width:120px;height:48px;background:#fdf0d2;"></div>
<span class="t" style="top:456px;height:18px;line-height:18px;font-size:13px;color:#444;font-weight:700;left:914.5px;letter-spacing:-0.242px;">Clear Filters</span>
<div class="card" style="left:1025px;top:371px;width:115.5px;height:107.5px;"></div>
<span class="t" style="top:375.9px;height:21px;line-height:21px;font-size:15px;color:#252423;left:1040px;letter-spacing:-0.637px;-webkit-text-stroke:0.35px #252423;">Score</span>
<div class="cb" style="left:1040px;top:402.5px;width:12px;height:12px;"></div>
<span class="t" style="top:401.1px;height:18px;line-height:18px;font-size:13px;color:#3a3a3a;left:1060px;letter-spacing:-0.434px;">High</span>
<div class="cb" style="left:1040px;top:426.5px;width:12px;height:12px;"></div>
<span class="t" style="top:425.1px;height:18px;line-height:18px;font-size:13px;color:#3a3a3a;left:1060px;letter-spacing:-0.950px;">Low</span>
<div class="cb" style="left:1040px;top:450.5px;width:12px;height:12px;"></div>
<span class="t" style="top:449.1px;height:18px;line-height:18px;font-size:13px;color:#3a3a3a;left:1060px;letter-spacing:-0.456px;">Medium</span>
<div class="card" style="left:1154px;top:371px;width:116px;height:107.5px;"></div>
<span class="t" style="top:375.9px;height:21px;line-height:21px;font-size:15px;color:#252423;left:1170px;letter-spacing:-0.419px;-webkit-text-stroke:0.35px #252423;">Impact</span>
<div class="cb" style="left:1170px;top:402.5px;width:12px;height:12px;"></div>
<span class="t" style="top:401.1px;height:18px;line-height:18px;font-size:13px;color:#3a3a3a;left:1190px;letter-spacing:-0.434px;">High</span>
<div class="cb" style="left:1170px;top:426.5px;width:12px;height:12px;"></div>
<span class="t" style="top:425.1px;height:18px;line-height:18px;font-size:13px;color:#3a3a3a;left:1190px;letter-spacing:-0.950px;">Low</span>
<div class="cb" style="left:1170px;top:450.5px;width:12px;height:12px;"></div>
<span class="t" style="top:449.1px;height:18px;line-height:18px;font-size:13px;color:#3a3a3a;left:1190px;letter-spacing:-0.456px;">Medium</span>
<div class="card" style="left:1024px;top:488px;width:120px;height:109.5px;"></div>
<div style="left:1031px;top:488px;width:64px;height:20px;overflow:hidden;">
<div class="b" style="left:1px;top:-6px;width:61px;height:24px;background:#6b6b6b;border-radius:3px;filter:blur(2px) url(#n);"></div>
</div>
<div class="in" style="left:1036.5px;top:511px;width:64px;height:23px;"></div>
<span class="t" style="top:515.5px;height:15px;line-height:15px;font-size:11px;color:#333;left:1043px;letter-spacing:-0.285px;">100</span>
<div style="left:1049px;top:552px;width:74px;height:2px;background:#e9e9e9;"></div>
<div style="left:1063px;top:540.5px;width:25.5px;height:25.5px;border:2px solid #f07c00;border-radius:50%;background:#fff;"></div>
<div class="card" style="left:1154px;top:488px;width:115px;height:109.5px;"></div>
<span class="t" style="top:493.5px;height:21px;line-height:21px;font-size:15px;color:#252423;left:1169.6px;letter-spacing:-0.608px;-webkit-text-stroke:0.35px #252423;">City</span>
<svg style="left:1169px;top:517px" width="14" height="14" viewBox="0 0 14 14"><circle cx="8.7" cy="5.3" r="4.2" fill="none" stroke="#252423" stroke-width="1.2"/><path d="M5.7 8.3 L0.6 13.4" stroke="#252423" stroke-width="1.2" fill="none"/></svg>
<span class="t" style="top:515.5px;height:18px;line-height:18px;font-size:13px;color:#8a8886;left:1190px;">Search</span>
<div style="left:1161px;top:533px;width:100px;height:1px;background:#c8c8c8;"></div>
<div class="cb" style="left:1169px;top:541.5px;width:12px;height:12px;"></div>
<div style="left:1169px;top:588px;width:12px;height:1px;background:#a19f9d;"></div>
<svg style="left:1183px;top:526px;filter:url(#n)" width="86" height="42" viewBox="0 0 86 42"><defs><filter id="cb1" x="-20%" y="-20%" width="140%" height="140%"><feGaussianBlur stdDeviation="1.2"/></filter></defs><polygon filter="url(#cb1)" fill="#6b6b6b" points="-8,-8 94,-8 94,37 40,33 -8,32"/></svg>
<div style="left:1165px;top:560px;width:57px;height:23px;overflow:hidden;">
<div class="b" style="left:0px;top:0px;width:20px;height:21px;background:#6b6b6b;border-radius:3px;filter:blur(1.5px) url(#n);"></div>
<div class="b" style="left:22px;top:3px;width:34px;height:16px;background:#6b6b6b;border-radius:3px;filter:blur(2px) url(#n);"></div>
</div>
<div class="card" style="left:1024px;top:614px;width:123px;height:95.5px;"></div>
<span class="t" style="top:620.5px;height:15px;line-height:15px;font-size:11px;color:#333;left:1040px;letter-spacing:-0.584px;">YoY (L)</span>
<div class="in" style="left:1040px;top:641px;width:73px;height:25.5px;"></div>
<div class="in" style="left:1040px;top:674.5px;width:73px;height:25.5px;"></div>
<div class="b" style="left:1046px;top:647px;width:54px;height:15px;background:#6b6b6b;border-radius:6px;filter:blur(2px) url(#n);"></div>
<div class="b" style="left:1046px;top:680px;width:49px;height:16px;background:#6b6b6b;border-radius:6px;filter:blur(2px) url(#n);"></div>
<div class="card" style="left:1154px;top:612px;width:115px;height:98px;"></div>
<span class="t" style="top:619.5px;height:15px;line-height:15px;font-size:11px;color:#333;left:1169px;letter-spacing:-0.382px;">Variance (Actu...</span>
<div class="in" style="left:1169.5px;top:639px;width:73px;height:25.5px;"></div>
<div class="in" style="left:1169.5px;top:672.5px;width:73px;height:25.5px;"></div>
<div class="b" style="left:1177px;top:645px;width:58px;height:15px;background:#6b6b6b;border-radius:6px;filter:blur(2px) url(#n);"></div>
<div class="b" style="left:1175px;top:678px;width:49px;height:16px;background:#6b6b6b;border-radius:6px;filter:blur(2px) url(#n);"></div>
<div class="card" style="left:8px;top:502px;width:157.5px;height:65px;"></div>
<span class="t" style="top:507.3px;height:21px;line-height:21px;font-size:15px;color:#252423;left:24.3px;letter-spacing:-0.827px;-webkit-text-stroke:0.35px #252423;">Year</span>
<div class="in" style="left:21px;top:533px;width:132px;height:29px;"></div>
<span class="t" style="top:538.7px;height:21px;line-height:21px;font-size:15px;color:#666;left:27px;letter-spacing:-0.390px;">All</span>
<svg style="left:132px;top:543.5px" width="16" height="10" viewBox="0 0 16 10"><path d="M1 1.2 L8 8.4 L15 1.2" fill="none" stroke="#666" stroke-width="1.2"/></svg>
<div class="card" style="left:8px;top:575px;width:157.5px;height:132.5px;"></div>
<span class="t" style="top:580.5px;height:21px;line-height:21px;font-size:15px;color:#252423;left:24px;letter-spacing:-1.031px;-webkit-text-stroke:0.35px #252423;">Reg ID</span>
<div style="left:86px;top:621px;width:64px;height:1px;background:#c8c8c8;"></div>
<div style="left:16px;top:595px;width:70px;height:31px;overflow:hidden;">
<div class="b" style="left:-6px;top:8px;width:82px;height:30px;background:#6b6b6b;border-radius:0px;filter:blur(1.5px) url(#n);"></div>
<div class="b" style="left:4px;top:-2px;width:42px;height:16px;background:#6b6b6b;border-radius:6px;filter:blur(3px) url(#n);"></div>
<div class="b" style="left:50px;top:4px;width:22px;height:12px;background:#6b6b6b;border-radius:5px;filter:blur(3px) url(#n);"></div>
</div>
<div class="thumb" style="left:149.5px;top:621.5px;width:7.5px;height:20px;"></div>
<div class="cb" style="left:24px;top:627.5px;width:12px;height:12px;"></div>
<span class="t" style="top:625.5px;height:18px;line-height:18px;font-size:13px;color:#333;left:44px;letter-spacing:-0.575px;">Select all</span>
<div class="cb" style="left:24px;top:651px;width:12px;height:12px;"></div>
<div class="cb" style="left:24px;top:675px;width:12px;height:12px;"></div>
<span class="t" style="top:673px;height:18px;line-height:18px;font-size:13px;color:#333;left:44px;letter-spacing:-0.980px;">500025</span>
<div class="b" style="left:42px;top:650px;width:43px;height:15px;background:#6b6b6b;border-radius:5px;filter:blur(2px) url(#n);"></div>
<div style="left:24px;top:698px;width:12px;height:1px;background:#a19f9d;"></div>
<div class="card" style="left:173px;top:499px;width:201.5px;height:171.5px;"></div>
<div style="left:181px;top:545px;width:178px;height:1px;background:#c8c8c8;"></div>
<div class="thumb" style="left:358.5px;top:545.5px;width:7.5px;height:20px;"></div>
<div style="left:180px;top:501px;width:138px;height:30px;overflow:hidden;">
<div class="b" style="left:4px;top:4.5px;width:128px;height:20px;background:#6b6b6b;border-radius:6px;filter:blur(2.5px) url(#n);"></div>
</div>
<svg style="left:188px;top:528px" width="14" height="14" viewBox="0 0 14 14"><circle cx="8.7" cy="5.3" r="4.2" fill="none" stroke="#252423" stroke-width="1.2"/><path d="M5.7 8.3 L0.6 13.4" stroke="#252423" stroke-width="1.2" fill="none"/></svg>
<span class="t" style="top:527px;height:18px;line-height:18px;font-size:13px;color:#8a8886;left:210px;letter-spacing:-1.032px;">Search</span>
<div class="cb" style="left:188px;top:552px;width:12px;height:12px;"></div>
<span class="t" style="top:550px;height:18px;line-height:18px;font-size:13px;color:#333;left:208px;letter-spacing:-0.575px;">Select all</span>
<div class="cb" style="left:188px;top:575.5px;width:12px;height:12px;"></div>
<div class="cb" style="left:188px;top:599px;width:12px;height:12px;"></div>
<div class="cb" style="left:188px;top:622.5px;width:12px;height:12px;"></div>
<div class="cb" style="left:188px;top:646px;width:12px;height:12px;"></div>
<div class="b" style="left:207px;top:576px;width:143px;height:15px;background:#6b6b6b;border-radius:5px;filter:blur(2px) url(#n);"></div>
<span class="t" style="top:575px;height:15px;line-height:15px;font-size:11px;color:#333;left:357px;">...</span>
<div class="b" style="left:207px;top:598px;width:116px;height:16px;background:#6b6b6b;border-radius:5px;filter:blur(2px) url(#n);"></div>
<div class="b" style="left:207px;top:622px;width:122px;height:16px;background:#6b6b6b;border-radius:5px;filter:blur(2px) url(#n);"></div>
<div class="b" style="left:207px;top:645px;width:122px;height:17px;background:#6b6b6b;border-radius:5px;filter:blur(2px) url(#n);"></div>
<div class="card" style="left:170px;top:675px;width:205.5px;height:35px;"></div>
<span class="t" style="top:688px;height:18px;line-height:18px;font-size:13px;color:#8a8886;left:184px;letter-spacing:-1.115px;">Search</span>
<svg style="left:312.7px;top:690.7px" width="11" height="11" viewBox="0 0 10 10"><circle cx="3.9" cy="3.9" r="3" fill="none" stroke="#939190" stroke-width="0.95"/><path d="M6.1 6.1 L9.2 9.2" stroke="#939190" stroke-width="1.05"/></svg>
<svg style="left:347.4px;top:690.6px" width="13" height="10" viewBox="0 0 13 10"><path d="M5 0.8 L12.2 0.8 L8 8.4 L0.8 8.4 Z" fill="#fff" stroke="#666" stroke-width="0.85"/><path d="M5 0.8 L12.2 0.8 L10.3 4.2 L3.1 4.2 Z" fill="#666"/></svg>
<div class="card" style="left:385px;top:501px;width:205.5px;height:169.5px;"></div>
<div style="left:393px;top:547px;width:182.5px;height:1px;background:#c8c8c8;"></div>
<div class="thumb" style="left:575px;top:547.5px;width:7.5px;height:20px;"></div>
<div style="left:392px;top:503px;width:140px;height:30px;overflow:hidden;">
<div class="b" style="left:6px;top:4.5px;width:126px;height:20px;background:#6b6b6b;border-radius:6px;filter:blur(2.5px) url(#n);"></div>
</div>
<svg style="left:401px;top:530px" width="14" height="14" viewBox="0 0 14 14"><circle cx="8.7" cy="5.3" r="4.2" fill="none" stroke="#252423" stroke-width="1.2"/><path d="M5.7 8.3 L0.6 13.4" stroke="#252423" stroke-width="1.2" fill="none"/></svg>
<span class="t" style="top:529px;height:18px;line-height:18px;font-size:13px;color:#8a8886;left:422.5px;letter-spacing:-1.032px;">Search</span>
<div class="cb" style="left:400px;top:554px;width:12px;height:12px;"></div>
<span class="t" style="top:552px;height:18px;line-height:18px;font-size:13px;color:#333;left:420px;letter-spacing:-0.575px;">Select all</span>
<div class="cb" style="left:400px;top:577.5px;width:12px;height:12px;"></div>
<div class="cb" style="left:400px;top:624px;width:12px;height:12px;"></div>
<div class="cb" style="left:400px;top:647.5px;width:12px;height:12px;"></div>
<div class="b" style="left:418px;top:577px;width:66px;height:16px;background:#6b6b6b;border-radius:5px;filter:blur(2px) url(#n);"></div>
<div class="b" style="left:397px;top:598px;width:18px;height:20px;background:#6b6b6b;border-radius:2px;filter:blur(1.5px) url(#n);"></div>
<div class="b" style="left:419px;top:599.5px;width:137px;height:18px;background:#6b6b6b;border-radius:5px;filter:blur(2px) url(#n);"></div>
<div class="b" style="left:418px;top:623px;width:71px;height:17px;background:#6b6b6b;border-radius:5px;filter:blur(2px) url(#n);"></div>
<div class="b" style="left:418px;top:647px;width:117px;height:17px;background:#6b6b6b;border-radius:5px;filter:blur(2px) url(#n);"></div>
<div class="card" style="left:385px;top:675px;width:205.5px;height:35px;"></div>
<span class="t" style="top:688px;height:18px;line-height:18px;font-size:13px;color:#8a8886;left:398.5px;letter-spacing:-1.115px;">Search</span>
<svg style="left:527.7px;top:690.7px" width="11" height="11" viewBox="0 0 10 10"><circle cx="3.9" cy="3.9" r="3" fill="none" stroke="#939190" stroke-width="0.95"/><path d="M6.1 6.1 L9.2 9.2" stroke="#939190" stroke-width="1.05"/></svg>
<svg style="left:562.4px;top:690.6px" width="13" height="10" viewBox="0 0 13 10"><path d="M5 0.8 L12.2 0.8 L8 8.4 L0.8 8.4 Z" fill="#fff" stroke="#666" stroke-width="0.85"/><path d="M5 0.8 L12.2 0.8 L10.3 4.2 L3.1 4.2 Z" fill="#666"/></svg>
<div class="card" style="left:601px;top:501px;width:211px;height:169.5px;"></div>
<span class="t" style="top:506.3px;height:21px;line-height:21px;font-size:15px;color:#252423;left:616px;letter-spacing:-0.372px;-webkit-text-stroke:0.35px #252423;">Commodity</span>
<div style="left:608px;top:547px;width:189px;height:1px;background:#c8c8c8;"></div>
<div class="thumb" style="left:796.5px;top:547.5px;width:7.5px;height:20px;"></div>
<svg style="left:616px;top:530px" width="14" height="14" viewBox="0 0 14 14"><circle cx="8.7" cy="5.3" r="4.2" fill="none" stroke="#252423" stroke-width="1.2"/><path d="M5.7 8.3 L0.6 13.4" stroke="#252423" stroke-width="1.2" fill="none"/></svg>
<span class="t" style="top:529px;height:18px;line-height:18px;font-size:13px;color:#8a8886;left:638px;letter-spacing:-1.115px;">Search</span>
<div style="left:606px;top:547px;width:205px;height:124px;overflow:hidden;">
<div class="b" style="left:4px;top:0px;width:79px;height:21px;background:#6b6b6b;border-radius:0px;filter:blur(1px) url(#n);"></div>
<div class="b" style="left:4px;top:24px;width:24px;height:21px;background:#6b6b6b;border-radius:0px;filter:blur(1px) url(#n);"></div>
<div class="b" style="left:30px;top:27px;width:40px;height:18px;background:#6b6b6b;border-radius:4px;filter:blur(2px) url(#n);"></div>
<div class="b" style="left:4px;top:46px;width:24px;height:23px;background:#6b6b6b;border-radius:0px;filter:blur(1px) url(#n);"></div>
<div class="b" style="left:30px;top:49px;width:164px;height:20px;background:#6b6b6b;border-radius:4px;filter:blur(2px) url(#n);"></div>
<div class="b" style="left:4px;top:69px;width:62px;height:25px;background:#6b6b6b;border-radius:0px;filter:blur(0.5px) url(#n);"></div>
<div class="b" style="left:2px;top:93px;width:66px;height:40px;background:#6b6b6b;border-radius:0px;filter:blur(0.5px) url(#n);"></div>
<div class="b" style="left:66px;top:100px;width:142px;height:30px;background:#6b6b6b;border-radius:4px;filter:blur(2.5px) url(#n);"></div>
</div>
<div class="card" style="left:601px;top:675px;width:211px;height:35px;"></div>
<span class="t" style="top:688px;height:18px;line-height:18px;font-size:13px;color:#8a8886;left:614.5px;letter-spacing:-1.115px;">Search</span>
<svg style="left:747.7px;top:690.7px" width="11" height="11" viewBox="0 0 10 10"><circle cx="3.9" cy="3.9" r="3" fill="none" stroke="#939190" stroke-width="0.95"/><path d="M6.1 6.1 L9.2 9.2" stroke="#939190" stroke-width="1.05"/></svg>
<svg style="left:782.4px;top:690.6px" width="13" height="10" viewBox="0 0 13 10"><path d="M5 0.8 L12.2 0.8 L8 8.4 L0.8 8.4 Z" fill="#fff" stroke="#666" stroke-width="0.85"/><path d="M5 0.8 L12.2 0.8 L10.3 4.2 L3.1 4.2 Z" fill="#666"/></svg>
<div class="card" style="left:822px;top:500px;width:191.5px;height:170.5px;"></div>
<span class="t" style="top:505.2px;height:21px;line-height:21px;font-size:15px;color:#252423;left:838px;letter-spacing:-0.315px;-webkit-text-stroke:0.35px #252423;">Description of Business</span>
<div style="left:830px;top:546px;width:169px;height:1px;background:#c8c8c8;"></div>
<div class="thumb" style="left:998.5px;top:546.5px;width:7.5px;height:20px;"></div>
<svg style="left:838px;top:529px" width="14" height="14" viewBox="0 0 14 14"><circle cx="8.7" cy="5.3" r="4.2" fill="none" stroke="#252423" stroke-width="1.2"/><path d="M5.7 8.3 L0.6 13.4" stroke="#252423" stroke-width="1.2" fill="none"/></svg>
<span class="t" style="top:528px;height:18px;line-height:18px;font-size:13px;color:#8a8886;left:860px;letter-spacing:-1.115px;">Search</span>
<div class="cb" style="left:838px;top:553px;width:12px;height:12px;"></div>
<span class="t" style="top:551px;height:18px;line-height:18px;font-size:13px;color:#333;left:858px;letter-spacing:-0.575px;">Select all</span>
<div class="cb" style="left:838px;top:574px;width:12px;height:12px;"></div>
<div class="cb" style="left:838px;top:596px;width:12px;height:12px;"></div>
<div class="cb" style="left:838px;top:643px;width:12px;height:12px;"></div>
<div style="left:835px;top:559px;width:19px;height:9px;overflow:hidden;">
<div class="b" style="left:1px;top:1px;width:17px;height:12px;background:#6b6b6b;border-radius:2px;filter:blur(1px) url(#n);"></div>
</div>
<div style="left:830px;top:590px;width:168px;height:50px;overflow:hidden;">
<div class="b" style="left:26px;top:6px;width:150px;height:16px;background:#6b6b6b;border-radius:5px;filter:blur(2px) url(#n);"></div>
<div class="b" style="left:5px;top:27px;width:18px;height:19px;background:#6b6b6b;border-radius:2px;filter:blur(1.5px) url(#n);"></div>
<div class="b" style="left:27px;top:28.5px;width:150px;height:17px;background:#6b6b6b;border-radius:5px;filter:blur(2px) url(#n);"></div>
</div>
<span class="t" style="top:595px;height:15px;line-height:15px;font-size:11px;color:#333;left:998.5px;">.</span>
<span class="t" style="top:620px;height:15px;line-height:15px;font-size:11px;color:#333;left:999.5px;">..</span>
<span class="t" style="top:641.3px;height:18px;line-height:18px;font-size:13px;color:#333;left:858px;">.</span>
<div class="card" style="left:822px;top:675px;width:191.5px;height:35px;"></div>
<span class="t" style="top:688px;height:18px;line-height:18px;font-size:13px;color:#8a8886;left:836.5px;letter-spacing:-1.115px;">Search</span>
<svg style="left:951.7px;top:690.7px" width="11" height="11" viewBox="0 0 10 10"><circle cx="3.9" cy="3.9" r="3" fill="none" stroke="#939190" stroke-width="0.95"/><path d="M6.1 6.1 L9.2 9.2" stroke="#939190" stroke-width="1.05"/></svg>
<svg style="left:986.4px;top:690.6px" width="13" height="10" viewBox="0 0 13 10"><path d="M5 0.8 L12.2 0.8 L8 8.4 L0.8 8.4 Z" fill="#fff" stroke="#666" stroke-width="0.85"/><path d="M5 0.8 L12.2 0.8 L10.3 4.2 L3.1 4.2 Z" fill="#666"/></svg>
</div></body></html>
